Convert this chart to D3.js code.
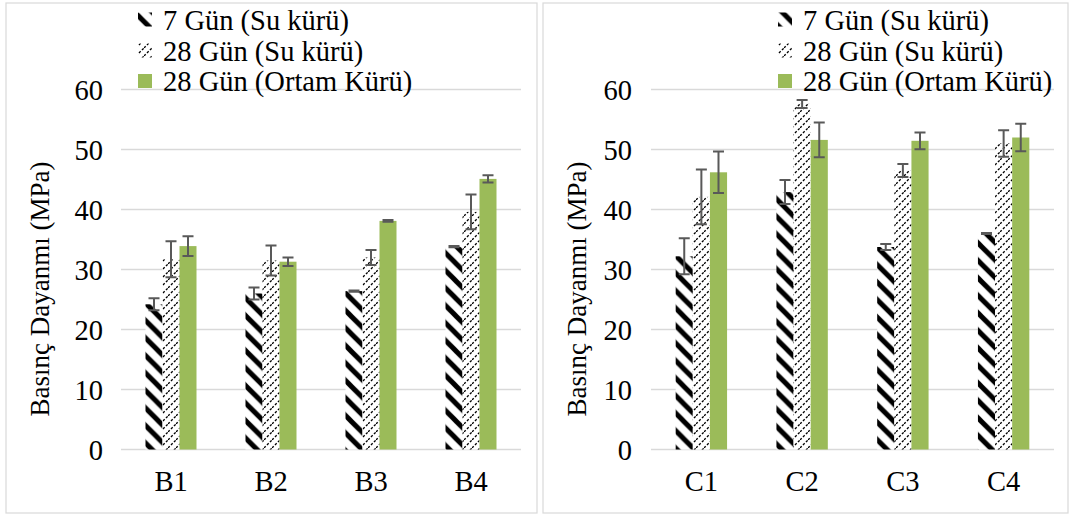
<!DOCTYPE html>
<html>
<head>
<meta charset="utf-8">
<script src="https://cdn.jsdelivr.net/npm/d3@7"></script>
<style>
  body { margin: 0; background: #fff; }
  svg { display: block; }
</style>
</head>
<body>
<svg id="chart" width="1070" height="515"></svg>
<script>
// Series shared by both panels
const seriesNames = ["7 Gün (Su kürü)", "28 Gün (Su kürü)", "28 Gün (Ortam Kürü)"];
const yTicks = [0, 10, 20, 30, 40, 50, 60];
const yTitle = "Basınç Dayanmı (MPa)";

// B mixes
const catsB = ["B1", "B2", "B3", "B4"];
const b7Su = [24.2, 26.0, 26.4, 33.8];
const b28Su = [31.7, 31.5, 32.0, 39.6];
const b28Ortam = [33.9, 31.3, 38.1, 45.1];
const b7SuErr = [1.0, 1.0, 0.1, 0.1];
const b28SuErr = [3.0, 2.5, 1.25, 2.9];
const b28OrtamErr = [1.65, 0.7, 0.15, 0.6];

// C mixes
const catsC = ["C1", "C2", "C3", "C4"];
const c7Su = [32.2, 42.9, 33.75, 36.0];
const c28Su = [42.1, 57.6, 46.5, 51.0];
const c28Ortam = [46.2, 51.6, 51.45, 52.0];
const c7SuErr = [3.0, 2.0, 0.5, 0.1];
const c28SuErr = [4.55, 0.67, 1.1, 2.2];
const c28OrtamErr = [3.45, 2.9, 1.4, 2.3];

const FONT = '"Liberation Serif", "Times New Roman", serif';
const svg = d3.select("#chart");
const defs = svg.append("defs");

// wide downward diagonal fill
const pDn = defs.append("pattern").attr("id", "patDn")
  .attr("patternUnits", "userSpaceOnUse").attr("width", 17.5).attr("height", 17.5);
pDn.append("rect").attr("width", 17.5).attr("height", 17.5).attr("fill", "#fff");
pDn.append("path")
  .attr("d", "M-5,-5 L22.5,22.5 M-5,12.5 L5,22.5 M12.5,-5 L22.5,5")
  .attr("stroke", "#000").attr("stroke-width", 5);

// dashed upward diagonal fill
const pUp = defs.append("pattern").attr("id", "patUp")
  .attr("patternUnits", "userSpaceOnUse").attr("width", 8).attr("height", 8);
pUp.append("rect").attr("width", 8).attr("height", 8).attr("fill", "#fff");
pUp.append("path")
  .attr("d", "M-2,2 L2,-2 M0,8 L8,0 M6,10 L10,6")
  .attr("stroke", "#000").attr("stroke-width", 1.3).attr("stroke-dasharray", "2.4,1.8");

const fills = ["url(#patDn)", "url(#patUp)", "#9bbb59"];
const fontSize = 28.5;

function drawPanel(cfg) {
  const g = svg.append("g");
  // panel frame
  g.append("rect")
    .attr("x", cfg.frame[0] + 0.5).attr("y", cfg.frame[1] + 0.5)
    .attr("width", cfg.frame[2]).attr("height", cfg.frame[3])
    .attr("fill", "#fff").attr("stroke", "#d9d9d9").attr("stroke-width", 1.2);

  const y = d3.scaleLinear().domain([0, 60]).range([449.5, 89.5]);
  const x = d3.scaleBand().domain(cfg.cats).range([cfg.x0, cfg.x1]).padding(0);
  const groupW = x.step() * 0.51;
  const xs = d3.scaleBand().domain([0, 1, 2]).range([0, groupW]).padding(0);

  // gridlines
  g.append("g").selectAll("line").data(yTicks).join("line")
    .attr("x1", cfg.x0).attr("x2", cfg.x1)
    .attr("y1", d => y(d)).attr("y2", d => y(d))
    .attr("stroke", "#d9d9d9").attr("stroke-width", 1.6);

  // y-axis tick labels
  const yAxis = d3.axisLeft(y).tickValues(yTicks).tickSize(0).tickPadding(0);
  const ya = g.append("g").attr("transform", `translate(${cfg.tickRight},0)`).call(yAxis);
  ya.attr("font-family", null).attr("font-size", null);
  ya.select(".domain").remove();
  ya.selectAll("text").attr("dy", "0.34em").style("font-family", FONT)
    .style("font-size", fontSize + "px").attr("fill", "#000");

  // x-axis category labels
  const xAxis = d3.axisBottom(x).tickSize(0).tickPadding(0);
  const xa = g.append("g").attr("transform", `translate(0,470)`).call(xAxis);
  xa.attr("font-family", null).attr("font-size", null);
  xa.select(".domain").remove();
  xa.selectAll("text").attr("dy", "0.72em").style("font-family", FONT)
    .style("font-size", fontSize + "px").attr("fill", "#000");

  // bars
  const rows = [];
  cfg.series.forEach((vals, si) => {
    vals.forEach((v, ci) => rows.push({ cat: cfg.cats[ci], si, v, e: cfg.errs[si][ci] }));
  });
  const bx = d => x(d.cat) + (x.step() - groupW) / 2 + xs(d.si);
  g.append("g").selectAll("rect").data(rows).join("rect")
    .attr("x", bx).attr("width", xs.bandwidth())
    .attr("y", d => y(d.v)).attr("height", d => y(0) - y(d.v))
    .attr("fill", d => fills[d.si]);

  // error bars
  const eg = g.append("g").attr("stroke", "#595959").attr("stroke-width", 2).attr("fill", "none");
  const cap = 5.5;
  eg.selectAll("path").data(rows).join("path")
    .attr("d", d => {
      const cx = bx(d) + xs.bandwidth() / 2;
      const t = y(d.v + d.e), b = y(d.v - d.e);
      return `M${cx - cap},${t}H${cx + cap}M${cx},${t}V${b}M${cx - cap},${b}H${cx + cap}`;
    });

  // y-axis title
  g.append("text")
    .attr("transform", `translate(${cfg.titleX},289) rotate(-90)`)
    .attr("text-anchor", "middle").attr("dy", "0.35em")
    .style("font-family", FONT).style("font-size", "27px").text(yTitle);

  // legend
  const lg = g.append("g");
  const base = [29.5, 60.5, 91];
  seriesNames.forEach((name, i) => {
    lg.append("rect").attr("x", cfg.legX).attr("y", base[i] - 17).attr("width", 14).attr("height", 14)
      .attr("fill", fills[i]);
    lg.append("text").attr("x", cfg.legX + 25).attr("y", base[i])
      .style("font-family", FONT).style("font-size", fontSize + "px").text(name);
  });
}

drawPanel({
  frame: [5.5, 2.5, 531, 510], x0: 121, x1: 521, tickRight: 103, titleX: 40, legX: 138,
  cats: catsB, series: [b7Su, b28Su, b28Ortam], errs: [b7SuErr, b28SuErr, b28OrtamErr]
});
drawPanel({
  frame: [542.5, 2.5, 525, 510], x0: 651, x1: 1054, tickRight: 632, titleX: 577, legX: 778,
  cats: catsC, series: [c7Su, c28Su, c28Ortam], errs: [c7SuErr, c28SuErr, c28OrtamErr]
});
</script>
</body>
</html>
